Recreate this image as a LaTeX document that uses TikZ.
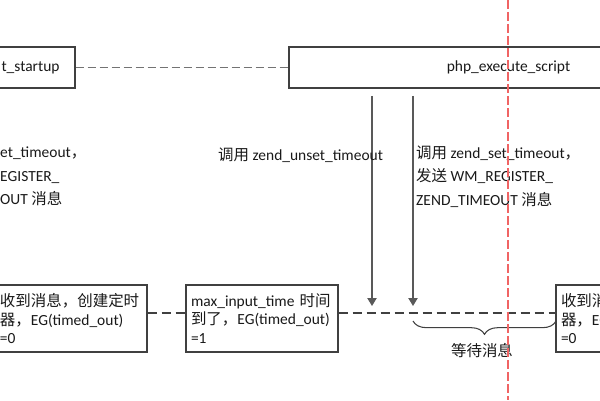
\documentclass[tikz,border=0pt]{standalone}
\usepackage{fontspec}
\setmainfont{Carlito}
\newfontfamily\cjk{Noto Sans CJK SC}
\usetikzlibrary{arrows.meta,decorations.pathreplacing}

\begin{document}
\begin{tikzpicture}[
        x=0.03cm, y=-0.03cm,
        txt/.style={text=black!90, font=\fontsize{13.2}{15.8}\selectfont},
        box/.style={rectangle, draw=black!75, line width=1pt, fill=white, txt},
        topbox/.style={box, minimum height=1.23cm},
        msgbox/.style={box, minimum width=4.56cm, minimum height=2.01cm, text width=4.26cm, inner xsep=0.15cm, align=left},
        note/.style={txt, inner sep=0pt, align=left, font=\fontsize{13.2}{20}\selectfont},
        call/.style={draw=black!65, line width=1pt, -{Triangle[length=0.24cm, width=0.28cm]}},
        link/.style={draw=black!55, line width=1.4pt, dash pattern=on 0.24cm off 0.12cm},
        waitline/.style={draw=black!75, line width=1pt, dash pattern=on 0.27cm off 0.15cm},
        brace/.style={draw=black!75, line width=0.9pt, decorate, decoration={brace, mirror, amplitude=0.4cm}},
        redline/.style={draw={rgb,255:red,240;green,100;blue,100}, line width=1.2pt, dash pattern=on 0.27cm off 0.09cm}
    ]
        \useasboundingbox (0,0) rectangle (600,400);
        \clip (0,0) rectangle (600,400);

        % fila superior
        \node[topbox, minimum width=2.67cm] (startup) at (30.5, 67.5) {t\_startup};
        \node[topbox, minimum width=13.17cm] (exec) at (508.5, 67.5) {php\_execute\_script};
        \draw[link] (startup) -- (exec);

        % fila inferior
        \node[msgbox] (recvl) at (71, 318.5) {{\cjk 收到消息，创建定时}\\{\cjk 器，}EG(timed\_out)\\=0};
        \node[msgbox] (expire) at (262, 318.5) {max\_input\_time {\cjk 时间}\\{\cjk 到了，}EG(timed\_out)\\=1};
        \node[msgbox] (recvr) at (632, 318.5) {{\cjk 收到消息，创建定时}\\{\cjk 器，}EG(timed\_out)\\=0};
        \draw[waitline] ([yshift=0.165cm]recvl.east) -- ([yshift=0.165cm]expire.west);
        \draw[waitline] ([yshift=0.165cm]expire.east) -- ([yshift=0.165cm]recvr.west);

        % llamadas
        \coordinate (u0) at (372, 96);
        \coordinate (u1) at (372, 306);
        \coordinate (s0) at (413, 96);
        \coordinate (s1) at (413, 306);
        \draw[call] (u0) -- (u1);
        \draw[call] (s0) -- (s1);

        \node[note, anchor=west] (unset) at (218, 155) {{\cjk 调用} zend\_unset\_timeout};
        \node[note, anchor=west] (setr) at (416, 176.5) {{\cjk 调用} zend\_set\_timeout{\cjk ，}\\{\cjk 发送} WM\_REGISTER\_\\ZEND\_TIMEOUT {\cjk 消息}};
        \node[note, anchor=west] (setl) at (0, 176.5) {et\_timeout{\cjk ，}\\EGISTER\_\\OUT {\cjk 消息}};

        % espera
        \coordinate (w0) at (413, 321);
        \coordinate (w1) at (556, 321);
        \draw[brace] (w0) -- (w1);
        \node[note] (wait) at (482, 351) {\cjk 等待消息};

        \coordinate (r0) at (508, 0);
        \coordinate (r1) at (508, 400);
        \draw[redline] (r0) -- (r1);
    \end{tikzpicture}
\end{document}
